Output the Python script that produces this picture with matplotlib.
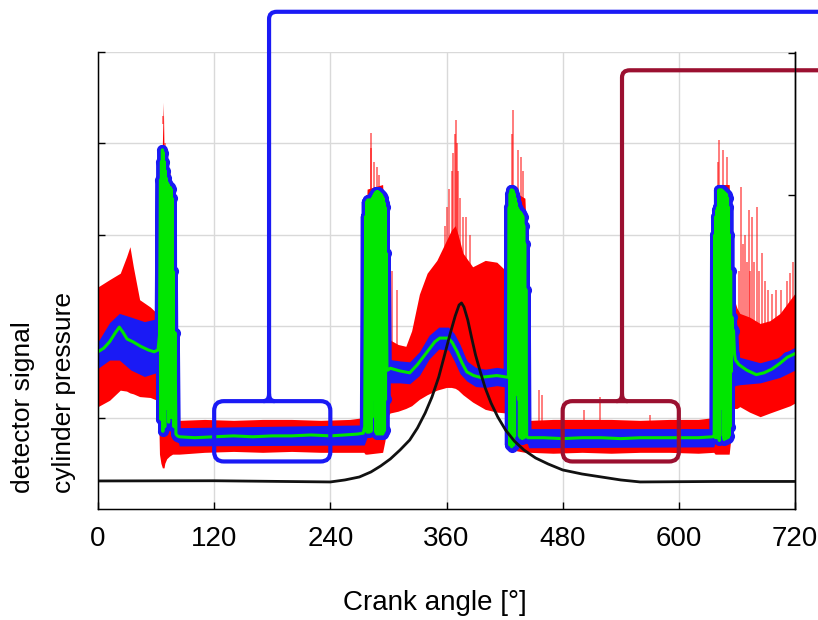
import numpy as np
import matplotlib.pyplot as plt
from matplotlib import font_manager
from matplotlib.patches import FancyBboxPatch, PathPatch
from matplotlib.path import Path

# ---- data (signal units 0..5, pressure in bar) ----
# mean detector signal (green line), crank angle in degrees
mean_pts = [
    (0, 1.72), (6, 1.76), (12, 1.83), (18, 1.93), (22, 1.99), (26, 1.93), (30, 1.86),
    (36, 1.83), (44, 1.78), (52, 1.74), (58, 1.72), (62, 1.74),
    # first spike
    (63.5, 1.9), (64.5, 3.6), (65.0, 0.98), (65.5, 3.8), (66.0, 1.2), (66.5, 3.93),
    (67.0, 0.85), (67.5, 3.9), (68.0, 1.4), (68.5, 3.8), (69.0, 0.9), (69.5, 3.7),
    (70.0, 1.2), (70.5, 3.62), (71.0, 1.1), (71.5, 3.57), (72.0, 1.3), (72.5, 3.55),
    (73.0, 0.95), (73.5, 3.52), (74.0, 1.2), (74.5, 3.52), (75.0, 1.1), (75.5, 3.5),
    (76.0, 1.0), (76.5, 3.4), (77.0, 1.1), (77.5, 2.6), (78.5, 0.9), (79.5, 1.93),
    (80.5, 0.82), (82, 0.80),
    (84, 0.79), (100, 0.78), (120, 0.79), (140, 0.80), (160, 0.79), (180, 0.80),
    (200, 0.80), (220, 0.81), (240, 0.80), (255, 0.81), (268, 0.82), (274, 0.83),
    # second spike
    (275.5, 0.9), (276.5, 3.2), (277.0, 0.86), (277.5, 3.36), (278.0, 0.84), (278.5, 3.38),
    (279.0, 0.86), (279.5, 3.38), (280.0, 0.84), (280.5, 3.38), (281.0, 0.86), (281.5, 3.38),
    (282.0, 0.85), (282.5, 3.38), (283.0, 1.0), (283.5, 3.4), (284.0, 1.25), (284.5, 3.42),
    (285.0, 1.3), (285.5, 3.44), (286.0, 1.2), (286.5, 3.46), (287.0, 0.84), (287.5, 3.47),
    (288.0, 0.82), (288.5, 3.47), (289.0, 0.84), (289.5, 3.47), (290.0, 0.82), (290.5, 3.46),
    (291.0, 0.84), (291.5, 3.45), (292.0, 0.82), (292.5, 3.44), (293.0, 0.84), (293.5, 3.42),
    (294.0, 0.82), (294.5, 3.4), (295.0, 0.84), (295.5, 3.35), (296.0, 0.86), (296.5, 3.3),
    (297.0, 1.2), (297.5, 2.8), (298.5, 1.52),
    (299.5, 1.52), (302, 1.54), (312, 1.51), (322, 1.49), (330, 1.58), (340, 1.72),
    (348, 1.83), (353, 1.87), (362, 1.87), (366, 1.82), (371, 1.72), (376, 1.60),
    (381, 1.50), (388, 1.46), (395, 1.44), (404, 1.45), (412, 1.46), (418, 1.45), (424, 1.44),
    # third spike
    (424.8, 3.3), (425.3, 0.7), (425.8, 3.45), (426.3, 0.75), (426.8, 3.49), (427.3, 0.68),
    (427.8, 3.49), (428.3, 0.8), (428.8, 3.48), (429.3, 0.7), (429.8, 3.45), (430.3, 0.8),
    (430.8, 3.4), (431.3, 1.25), (431.8, 3.35), (432.3, 1.35), (432.8, 3.3), (433.3, 1.4),
    (433.8, 3.28), (434.3, 1.2), (434.8, 3.26), (435.3, 0.8), (435.8, 3.25), (436.3, 0.78),
    (436.8, 3.24), (437.3, 0.8), (437.8, 3.22), (438.3, 0.77), (438.8, 3.2), (439.3, 0.8),
    (439.8, 3.1), (440.3, 0.78), (440.8, 2.9), (441.3, 0.8), (442.0, 2.4), (442.8, 0.8),
    (444, 0.78),
    (460, 0.78), (480, 0.77), (500, 0.78), (520, 0.78), (540, 0.77), (560, 0.78),
    (580, 0.78), (600, 0.78), (620, 0.78), (635, 0.79),
    # fourth spike
    (636.5, 0.80), (637.3, 3.0), (637.8, 0.78), (638.3, 3.2), (638.8, 0.8), (639.3, 3.27),
    (639.8, 0.78), (640.3, 3.3), (640.8, 0.8), (641.3, 3.49), (641.8, 0.75), (642.3, 3.49),
    (642.8, 1.1), (643.3, 3.49), (643.8, 1.2), (644.3, 3.49), (644.8, 1.3), (645.3, 3.48),
    (645.8, 0.8), (646.3, 3.47), (646.8, 0.76), (647.3, 3.46), (647.8, 0.8), (648.3, 3.45),
    (648.8, 0.77), (649.3, 3.44), (649.8, 0.8), (650.3, 3.4), (650.8, 0.78), (651.3, 3.3),
    (651.8, 0.8), (652.3, 3.0), (652.8, 0.9), (653.5, 2.6), (654.0, 1.5), (654.8, 2.1),
    (655.5, 1.97), (656.5, 1.95), (657.5, 1.7), (658.5, 1.63),
    (662, 1.58), (670, 1.52), (680, 1.47), (688, 1.49), (696, 1.53), (704, 1.59),
    (712, 1.66), (720, 1.70),
]

# blue band of single cycles around the mean: (angle, low, high)
blue_pts = [
    (0, 1.54, 1.83), (12, 1.63, 2.04), (22, 1.63, 2.14), (34, 1.52, 2.10), (48, 1.45, 2.05),
    (60, 1.49, 2.08), (63, 1.50, 2.10),
    (84, 0.69, 0.89), (275, 0.70, 0.92),
    (299, 1.38, 1.64), (312, 1.38, 1.62), (322, 1.37, 1.61), (332, 1.46, 1.72),
    (342, 1.64, 1.90), (352, 1.75, 1.99), (362, 1.74, 1.99), (368, 1.62, 1.92),
    (374, 1.48, 1.80), (381, 1.40, 1.62), (390, 1.34, 1.55), (400, 1.33, 1.53),
    (412, 1.35, 1.55), (424, 1.33, 1.53),
    (445, 0.67, 0.88), (636, 0.68, 0.88),
    (658, 1.35, 1.70), (663, 1.36, 1.66), (684, 1.38, 1.60), (704.5, 1.44, 1.66),
    (720, 1.52, 1.77),
]

# red envelope of all recorded cycles: (angle, low, high)
red_pts = [
    (0, 1.12, 2.43), (12, 1.19, 2.51), (23, 1.30, 2.58), (29.5, 1.29, 2.76), (33, 1.27, 2.87),
    (36.5, 1.26, 2.65), (43, 1.23, 2.29), (54, 1.22, 2.21), (61, 1.19, 2.14),
    (62.5, 1.10, 2.20), (63.5, 0.60, 2.60), (65, 0.50, 3.60), (66.5, 0.45, 4.00),
    (67.5, 0.45, 4.45), (68.2, 0.45, 3.90), (69, 0.50, 3.90), (71, 0.55, 3.65),
    (74, 0.58, 3.57), (77, 0.60, 3.45), (79, 0.60, 2.50), (81, 0.60, 1.00),
    (84, 0.60, 0.97), (110, 0.62, 0.98), (140, 0.63, 0.97), (170, 0.62, 0.98), (200, 0.63, 0.98),
    (230, 0.62, 0.97), (260, 0.62, 0.98), (274.5, 0.62, 1.00),
    (276, 0.60, 3.00), (278, 0.60, 3.50), (294, 0.62, 3.55), (296.5, 0.75, 3.00),
    (298.5, 1.00, 2.20),
    (301.6, 1.05, 1.85), (310, 1.07, 1.80), (318, 1.10, 1.78), (324, 1.13, 1.95), (332, 1.20, 2.35),
    (340, 1.25, 2.58), (350, 1.30, 2.72), (360, 1.33, 2.94), (365, 1.33, 3.05), (369, 1.32, 3.10),
    (372, 1.30, 3.00), (377, 1.25, 2.80), (387, 1.17, 2.65), (400, 1.09, 2.72), (412, 1.06, 2.70),
    (422, 1.05, 2.60), (424.5, 1.05, 2.55),
    (425.5, 0.65, 3.50), (441, 0.62, 3.40), (442.5, 0.62, 3.00), (444, 0.63, 1.20),
    (446, 0.62, 0.97), (470, 0.61, 0.98), (500, 0.62, 0.98), (530, 0.61, 0.98), (560, 0.62, 0.97),
    (590, 0.62, 0.98), (620, 0.61, 0.98), (636, 0.62, 1.00),
    (637.5, 0.60, 3.20), (639.5, 0.60, 3.55), (652, 0.60, 3.55), (654, 0.80, 2.90),
    (657, 1.10, 2.30),
    (660, 1.10, 2.20), (663, 1.12, 2.14), (673, 1.06, 2.10), (684, 1.01, 2.03), (694, 1.05, 2.06),
    (704.5, 1.09, 2.14), (715, 1.13, 2.29), (720, 1.16, 2.36),
]

# single outlier cycles sticking out of the red band: (angle, top)
hair_pts = [
    (67.2, 4.30), (69.5, 4.00), (71.5, 3.85), (74.5, 3.70),
    (281.5, 4.11), (282.3, 3.95), (285.5, 3.80), (288.5, 3.74), (290.5, 3.65),
    (296, 2.94), (298, 3.30), (300, 3.13), (304, 2.60), (309, 2.40),
    (358, 3.10), (361, 3.30), (363, 3.50), (365.5, 3.70), (367, 3.90), (368.5, 4.10),
    (369.5, 4.26), (370.5, 4.00), (372, 3.70), (374, 3.40), (377, 3.20), (380, 3.20),
    (384, 3.00),
    (427.5, 4.10), (428.7, 4.37), (433.5, 3.93), (436.5, 3.85), (439, 3.70),
    (456, 1.30), (459, 1.25), (502, 1.08), (518.5, 1.23), (570, 1.03),
    (640.8, 3.80), (641.5, 4.04), (646, 3.93), (649.5, 3.85),
    (662, 2.60), (664, 3.52), (666, 2.90), (668, 3.00), (670, 2.70), (672, 3.27),
    (674, 2.60), (676, 3.20), (678, 2.70), (681, 3.30), (683, 2.60), (686, 2.80),
    (689, 2.50), (692, 2.40), (696, 2.35), (700, 2.40), (706, 2.40), (712, 2.50),
    (715, 2.58), (718, 2.70),
]

# cylinder pressure (black line), right axis
press_pts = [
    (0, -0.28), (120, -0.25), (240, -0.42), (255, -0.14), (270, 0.28), (282, 0.99),
    (292, 1.83), (302, 2.82), (312, 4.08), (322, 5.49), (330, 7.18), (338, 9.30),
    (345, 11.55), (352, 14.37), (358, 17.46), (364, 20.56), (369, 22.96), (373, 24.51),
    (375.5, 24.79), (378, 24.23), (382, 22.39), (386, 19.86), (390, 17.46), (395, 15.07),
    (400, 12.82), (406, 10.70), (413, 8.73), (421, 6.90), (430, 5.35), (440, 4.08),
    (452, 2.96), (465, 2.11), (480, 1.27), (500, 0.70), (520, 0.28), (540, -0.14),
    (560, -0.42), (640, -0.35), (720, -0.35),
]

angle_ticks = [0, 120, 240, 360, 480, 600, 720]
windows = [(120, 240), (480, 600)]

mean_deg, mean_val = np.array(mean_pts).T
blue_deg, blue_lo, blue_hi = np.array(blue_pts).T
red_deg, red_lo, red_hi = np.array(red_pts).T
hair_deg, hair_top = np.array(hair_pts).T
press_deg, press_val = np.array(press_pts).T

names = {f.name for f in font_manager.fontManager.ttflist}
narrow = 'Liberation Sans Narrow' if 'Liberation Sans Narrow' in names else 'Liberation Sans'

fig = plt.figure(figsize=(8.18, 6.2), dpi=100)
ax = fig.add_axes([98 / 818, 111 / 620, 697 / 818, 457 / 620])

red = '#ff0000'
blue = '#1a1af5'
green = '#00e600'

ax.fill_between(red_deg, red_lo, red_hi, color=red, lw=0, zorder=1)
base = np.interp(hair_deg, red_deg, red_hi) - 0.1
ax.vlines(hair_deg, base, hair_top, color=red, lw=1.2, alpha=0.6, zorder=1)
ax.fill_between(blue_deg, blue_lo, blue_hi, color=blue, lw=0, zorder=2)
ax.plot(mean_deg, mean_val, color=blue, lw=7, marker='o', ms=7,
        solid_joinstyle='round', zorder=2)
ax.plot(mean_deg, mean_val, color=green, lw=2.2, zorder=3)

ax.set_xlim(0, 720)
ax.set_ylim(0, 5)
ax.set_xticks(angle_ticks)
ax.set_yticks([1, 2, 3, 4, 5])
ax.set_yticklabels([])
ax.set_axisbelow(True)
ax.grid(color='#d9d9d9', lw=1)
ax.tick_params(direction='in', length=5, width=1, labelsize=20, pad=12)
for lab in ax.get_xticklabels():
    lab.set_family(narrow)
ax.spines['top'].set_visible(False)
for s in ['left', 'bottom', 'right']:
    ax.spines[s].set_linewidth(1)

ax2 = ax.twinx()
ax2.plot(press_deg, press_val, color='#111111', lw=2)
ax2.set_ylim(-4.23, 60.14)
ax2.set_yticks([40, 60])
ax2.set_yticklabels([])
ax2.tick_params(direction='in', length=5, width=1)
ax2.spines['top'].set_visible(False)
ax2.spines['right'].set_linewidth(1)

# highlighted crank-angle windows with leader lines
box_colors = [blue, '#9b1030']
box_lo, box_hi = 0.52, 1.18
leader_x = [176.7, 541.3]
leader_top = [5.44, 4.80]
for (a0, a1), c, lx, lt in zip(windows, box_colors, leader_x, leader_top):
    box = FancyBboxPatch((a0, box_lo), a1 - a0, box_hi - box_lo,
                         boxstyle='round,pad=0,rounding_size=10', mutation_aspect=0.0106,
                         fill=False, ec=c, lw=3, clip_on=False, zorder=5)
    ax.add_patch(box)
    verts = [(lx - 6, box_hi), (lx, box_hi), (lx, box_hi + 0.08),
             (lx, lt - 0.08), (lx, lt), (lx + 8, lt), (780, lt),
             (lx + 6, box_hi), (lx, box_hi), (lx, box_hi + 0.08)]
    codes = [Path.MOVETO, Path.CURVE3, Path.CURVE3,
             Path.LINETO, Path.CURVE3, Path.CURVE3, Path.LINETO,
             Path.MOVETO, Path.CURVE3, Path.CURVE3]
    ax.add_patch(PathPatch(Path(verts, codes), fill=False, ec=c, lw=3,
                           clip_on=False, zorder=5))

fig.text(435 / 818, (620 - 603) / 620, 'Crank angle [°]', family=narrow,
         fontsize=20, ha='center', va='center')
fig.text(23 / 818, (620 - 493) / 620, 'detector signal', family='Liberation Sans',
         fontsize=19, rotation=90, ha='center', va='bottom')
fig.text(64 / 818, (620 - 493) / 620, 'cylinder pressure', family='Liberation Sans',
         fontsize=19, rotation=90, ha='center', va='bottom')

fig.savefig('out.png', dpi=100)
